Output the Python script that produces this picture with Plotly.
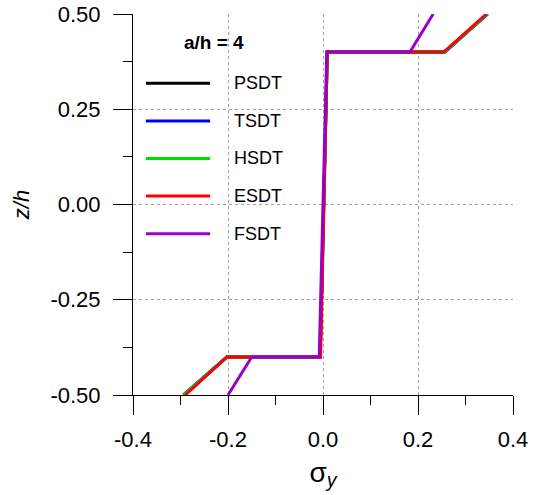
import plotly.graph_objects as go

# through-thickness positions (z/h) at layer interfaces
z_vals = [-0.5, -0.4, -0.4, 0.4, 0.4, 0.5]

series_names = ["PSDT", "TSDT", "HSDT", "ESDT", "FSDT"]
series_colors = ["#000000", "#0000ff", "#00dd00", "#ff0000", "#9900cc"]
psdt = [-0.292, -0.202, -0.006, 0.009, 0.256, 0.346]
tsdt = [-0.294, -0.203, -0.006, 0.009, 0.257, 0.347]
hsdt = [-0.293, -0.202, -0.006, 0.009, 0.256, 0.346]
esdt = [-0.290, -0.202, -0.005, 0.009, 0.254, 0.344]
fsdt = [-0.200, -0.150, -0.008, 0.008, 0.183, 0.232]
series_vals = [psdt, tsdt, hsdt, esdt, fsdt]

x_ticks = [-0.4, -0.2, 0.0, 0.2, 0.4]
x_ticklabels = ["-0.4", "-0.2", "0.0", "0.2", "0.4"]
y_ticks = [-0.5, -0.25, 0.0, 0.25, 0.5]
y_ticklabels = ["-0.50", "-0.25", "0.00", "0.25", "0.50"]

fig = go.Figure()
for name, col, vals in zip(series_names, series_colors, series_vals):
    fig.add_trace(go.Scatter(x=vals, y=z_vals, mode="lines", name=name,
                             line=dict(color=col, width=3), showlegend=False))

# manual legend (line samples + labels) inside plot area
leg_y = [0.818, 0.719, 0.621, 0.522, 0.423]
for name, col, yy in zip(series_names, series_colors, leg_y):
    fig.add_shape(type="line", xref="paper", yref="paper", x0=0.034, x1=0.203,
                  y0=yy, y1=yy, line=dict(color=col, width=3))
    fig.add_annotation(xref="paper", yref="paper", x=0.2605, y=yy, text=name,
                       showarrow=False, xanchor="left", yanchor="middle",
                       font=dict(family="Arial, Liberation Sans", size=18, color="#000"))
fig.add_annotation(xref="paper", yref="paper", x=0.213, y=0.9265, text="<b>a/h = 4</b>",
                   showarrow=False, xanchor="center", yanchor="middle",
                   font=dict(family="Arial, Liberation Sans", size=19, color="#000"))

axis_common = dict(
    showgrid=True, gridcolor="#a0a0a0", griddash="dot", gridwidth=1,
    showline=True, linecolor="#000000", linewidth=1,
    ticks="outside", ticklen=19, tickcolor="#000000", tickwidth=1,
    zeroline=False, automargin=False,
    tickfont=dict(family="Arial, Liberation Sans", size=22, color="#000"),
)

fig.update_xaxes(range=[-0.4, 0.4], tickvals=x_ticks, ticktext=x_ticklabels,
                 minor=dict(tickvals=[-0.3, -0.1, 0.1, 0.3], ticklen=9, ticks="outside",
                            tickcolor="#000000", showgrid=False),
                 ticklabelstandoff=6,
                 title=dict(text="σ<sub><i>y</i></sub>", standoff=10,
                            font=dict(family="Arial, Liberation Sans", size=28, color="#000")),
                 **axis_common)
fig.update_yaxes(range=[-0.5, 0.5], tickvals=y_ticks, ticktext=y_ticklabels,
                 minor=dict(tickvals=[-0.375, -0.125, 0.125, 0.375], ticklen=9, ticks="outside",
                            tickcolor="#000000", showgrid=False),
                 ticklabelstandoff=8,
                 title=dict(text="<i>z/h</i>", standoff=14,
                            font=dict(family="Arial, Liberation Sans", size=22, color="#000")),
                 **axis_common)

fig.update_layout(width=534, height=495, margin=dict(l=133, r=21, t=14, b=100),
                  plot_bgcolor="white", paper_bgcolor="white")
fig.write_html("out.html")
